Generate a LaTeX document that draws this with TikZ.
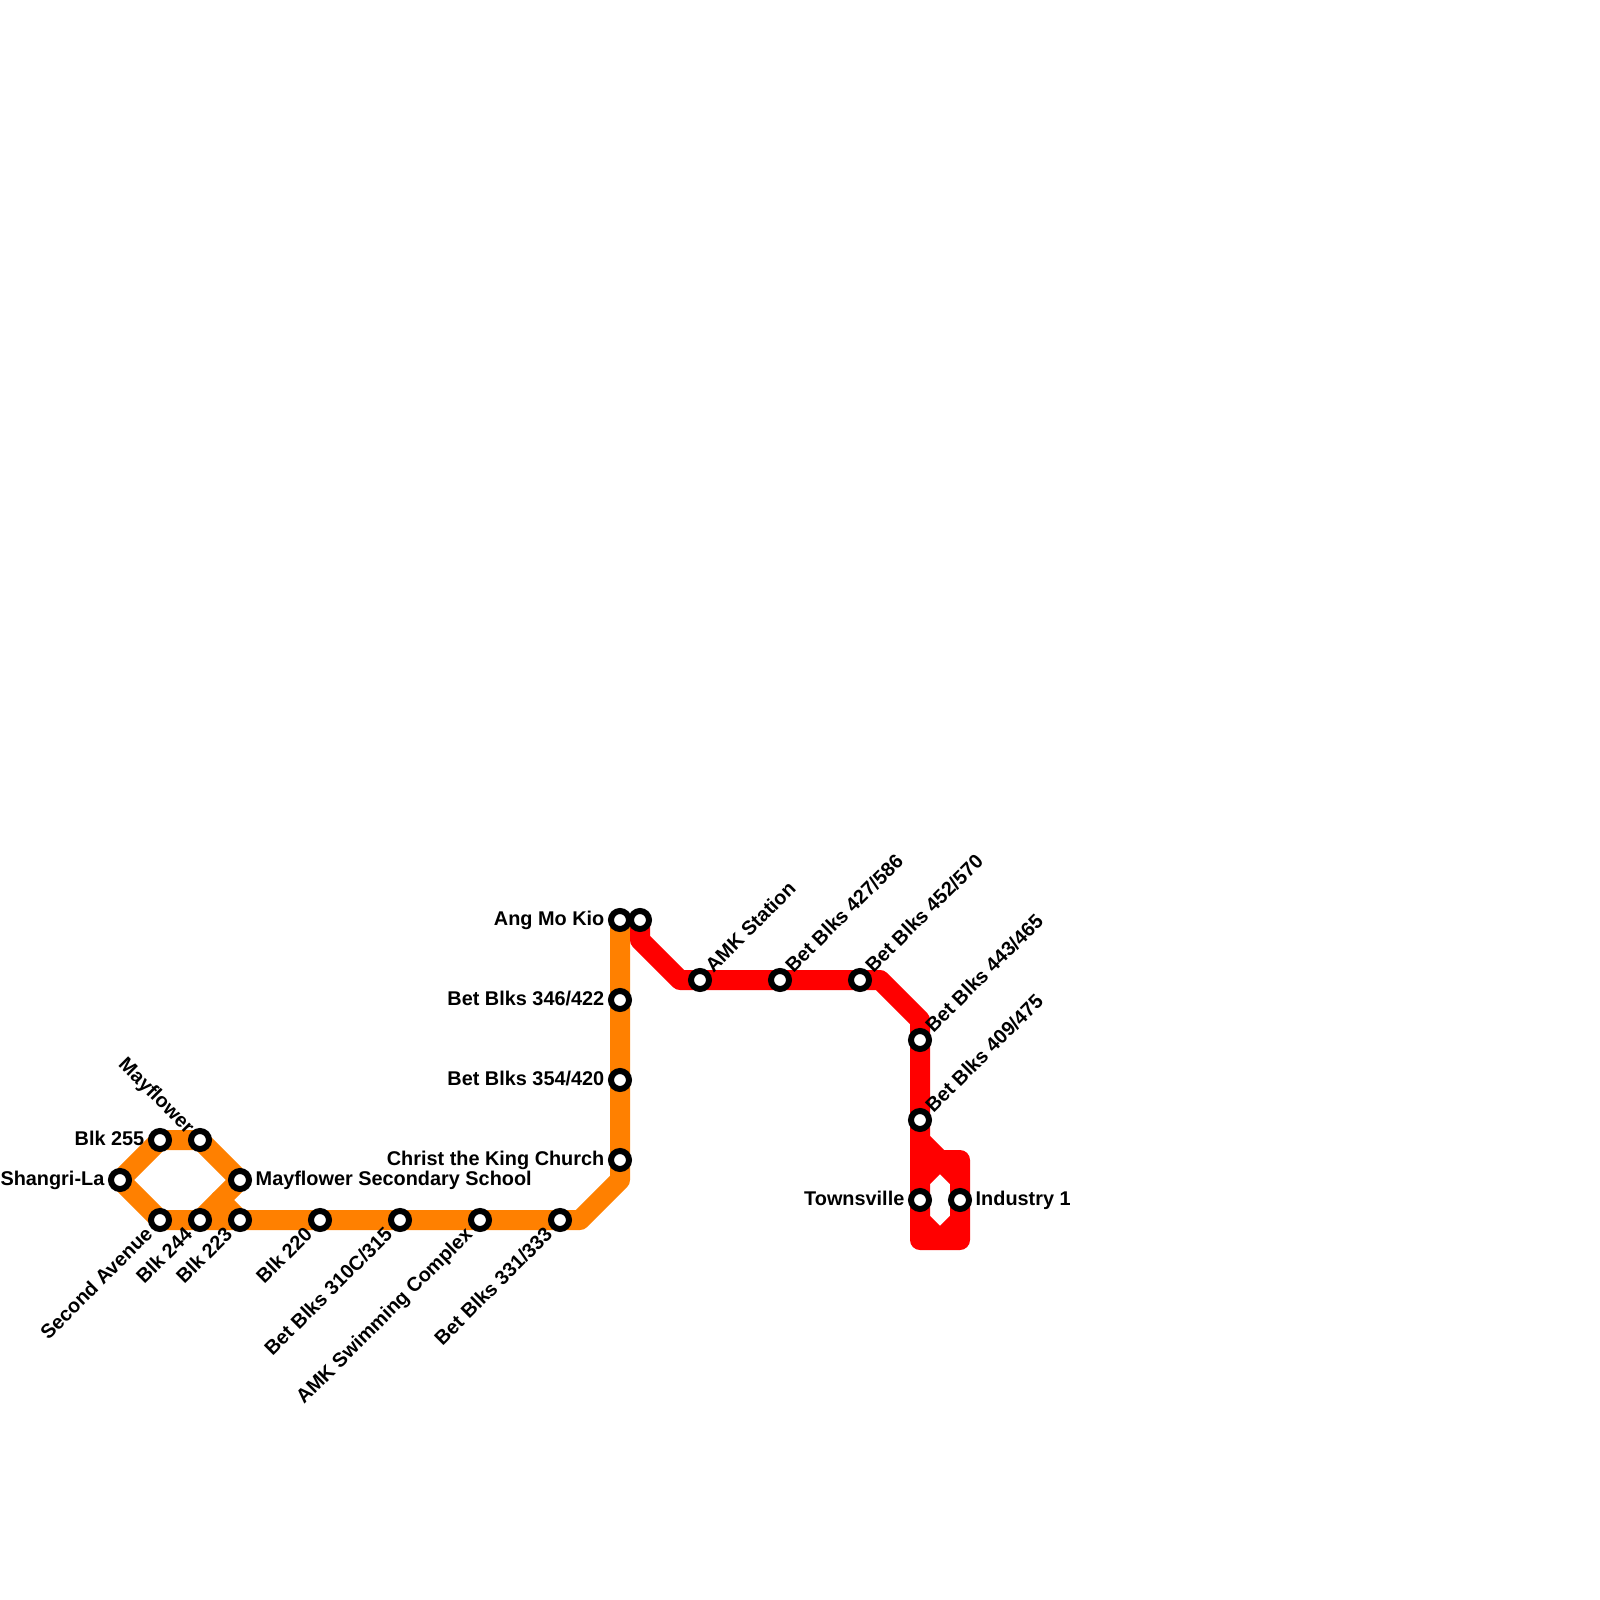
\documentclass[tikz,border=0pt]{standalone}
\usepackage{fontspec}
\setmainfont{Liberation Sans}
\usetikzlibrary{backgrounds}
\definecolor{lineorange}{HTML}{FF8000}
\definecolor{linered}{HTML}{FF0000}
\tikzset{
    stn/.style={circle,draw=black,fill=white,line width=0.06cm,minimum size=0.18cm,inner sep=0pt,outer sep=0pt},
    route/.style={line width=0.2cm,line join=round,line cap=round},
    txt/.style={font=\bfseries\fontsize{5.65pt}{6pt}\selectfont,inner sep=0pt,text=black,text height=0.143cm,text depth=0pt},
    txtleft/.style={txt,anchor=east},
    txtright/.style={txt,anchor=west},
    txtup/.style={txt,anchor=west,rotate=45},
    txtdown/.style={txt,anchor=east,rotate=45},
    txtback/.style={txt,anchor=east,rotate=-45}
}
\begin{document}
\begin{tikzpicture}[x=0.01cm,y=-0.01cm]
    \useasboundingbox (0,0) rectangle (1600,1600);
    % orange line stations
    \node[stn] (shangrila) at (120,1180) {};
    \node[stn] (blk255) at (160,1140) {};
    \node[stn] (mayflower) at (200,1140) {};
    \node[stn] (mayflowersec) at (240,1180) {};
    \node[stn] (secondave) at (160,1220) {};
    \node[stn] (blk244) at (200,1220) {};
    \node[stn] (blk223) at (240,1220) {};
    \node[stn] (blk220) at (320,1220) {};
    \node[stn] (blks310) at (400,1220) {};
    \node[stn] (swimming) at (480,1220) {};
    \node[stn] (blks331) at (560,1220) {};
    \node[stn] (church) at (620,1160) {};
    \node[stn] (blks354) at (620,1080) {};
    \node[stn] (blks346) at (620,1000) {};
    \node[stn] (angmokio) at (620,920) {};
    % red line stations
    \node[stn] (amkstn) at (640,920) {};
    \node[stn] (amkstation) at (700,980) {};
    \node[stn] (blks427) at (780,980) {};
    \node[stn] (blks452) at (860,980) {};
    \node[stn] (blks443) at (920,1040) {};
    \node[stn] (blks409) at (920,1120) {};
    \node[stn] (townsville) at (920,1200) {};
    \node[stn] (industry) at (960,1200) {};
    % bends
    \coordinate (obend) at (580,1220);
    \coordinate (ocorner) at (620,1180);
    \coordinate (ojoin) at (220,1200);
    \coordinate (rdown) at (640,940);
    \coordinate (rflat) at (680,980);
    \coordinate (rturn) at (880,980);
    \coordinate (rdrop) at (920,1020);
    \coordinate (rsplit) at (920,1140);
    \coordinate (rmid) at (940,1160);
    \coordinate (rtop) at (960,1160);
    \coordinate (rside) at (960,1180);
    \coordinate (rleft) at (920,1180);
    \coordinate (rlow) at (920,1220);
    \coordinate (rlowr) at (960,1220);
    \coordinate (rbl) at (920,1240);
    \coordinate (rbm) at (940,1240);
    \coordinate (rbr) at (960,1240);
    \begin{scope}[on background layer]
        \draw[route,lineorange] (shangrila.center) -- (blk255.center) -- (mayflower.center) -- (mayflowersec.center) -- (ojoin) -- (blk244.center) -- (secondave.center) -- (shangrila.center);
        \draw[route,lineorange] (blk244.center) -- (blk223.center) -- (blk220.center) -- (blks310.center) -- (swimming.center) -- (blks331.center) -- (obend) -- (ocorner) -- (church.center) -- (blks354.center) -- (blks346.center) -- (angmokio.center);
        \draw[route,lineorange] (ojoin) -- (blk223.center);
        \draw[route,linered] (amkstn.center) -- (rdown) -- (rflat) -- (amkstation.center) -- (blks427.center) -- (blks452.center) -- (rturn) -- (rdrop) -- (blks443.center) -- (blks409.center) -- (rsplit) -- (rmid) -- (rside) -- (industry.center) -- (rlowr) -- (rbm) -- (rlow) -- (townsville.center) -- (rleft) -- (rmid) -- (rtop) -- (rbr) -- (rbl) -- (rsplit);
    \end{scope}
    % labels
    \node[txtleft] (tshangrila) at (105,1178) {Shangri-La};
    \node[txtleft] (tblk255) at (145,1138) {Blk 255};
    \node[txtback] (tmayflower) at (192,1130) {Mayflower};
    \node[txtright] (tmayflowersec) at (255,1178) {Mayflower Secondary School};
    \node[txtdown] (tsecondave) at (149,1230) {Second Avenue};
    \node[txtdown] (tblk244) at (189,1230) {Blk 244};
    \node[txtdown] (tblk223) at (229,1230) {Blk 223};
    \node[txtdown] (tblk220) at (309,1230) {Blk 220};
    \node[txtdown] (tblks310) at (389,1230) {Bet Blks 310C/315};
    \node[txtdown] (tswimming) at (469,1230) {AMK Swimming Complex};
    \node[txtdown] (tblks331) at (549,1230) {Bet Blks 331/333};
    \node[txtleft] (tchurch) at (605,1158) {Christ the King Church};
    \node[txtleft] (tblks354) at (605,1078) {Bet Blks 354/420};
    \node[txtleft] (tblks346) at (605,998) {Bet Blks 346/422};
    \node[txtleft] (tangmokio) at (605,918) {Ang Mo Kio};
    \node[txtup] (tamkstation) at (708,969) {AMK Station};
    \node[txtup] (tblks427) at (788,969) {Bet Blks 427/586};
    \node[txtup] (tblks452) at (868,969) {Bet Blks 452/570};
    \node[txtup] (tblks443) at (928,1029) {Bet Blks 443/465};
    \node[txtup] (tblks409) at (928,1109) {Bet Blks 409/475};
    \node[txtleft] (ttownsville) at (905,1198) {Townsville};
    \node[txtright] (tindustry) at (975,1198) {Industry 1};
\end{tikzpicture}
\end{document}
